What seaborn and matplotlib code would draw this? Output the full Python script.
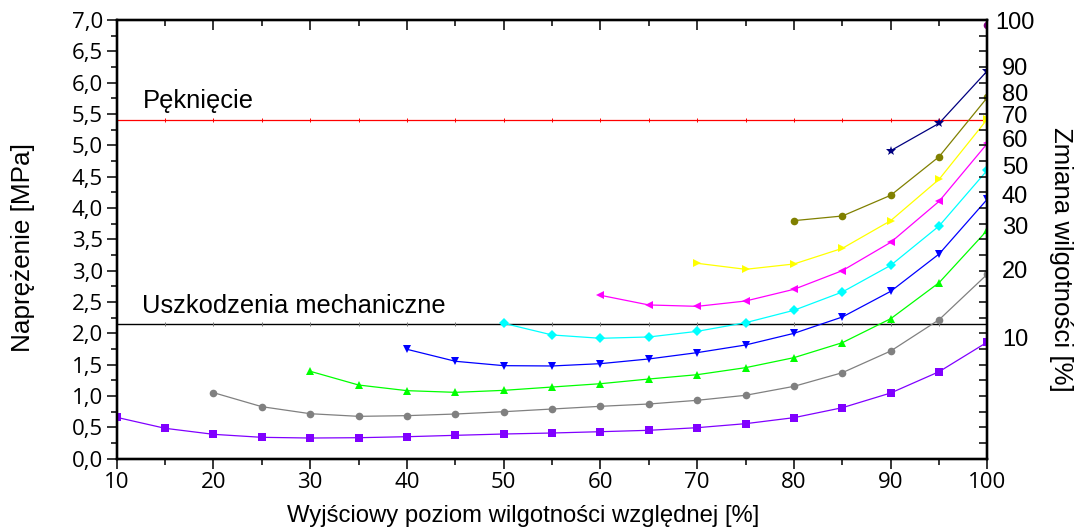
import numpy as np
import pandas as pd
import matplotlib
matplotlib.use("Agg")
import matplotlib.pyplot as plt
import seaborn as sns
from matplotlib.ticker import MultipleLocator, FuncFormatter

# ---- data ----
humidity_change = [10, 20, 30, 40, 50, 60, 70, 80, 90, 100]   # series labels (right side)
start_rh = [10, 20, 30, 40, 50, 60, 70, 80, 90, 100]          # first x of each series
rh_step = 5

stress_10 = [0.657, 0.482, 0.386, 0.338, 0.327, 0.332, 0.348, 0.370, 0.391, 0.407,
             0.428, 0.450, 0.492, 0.556, 0.652, 0.811, 1.046, 1.386, 1.860]
stress_20 = [1.051, 0.827, 0.715, 0.673, 0.684, 0.710, 0.747, 0.790, 0.833, 0.870,
             0.929, 1.009, 1.152, 1.370, 1.716, 2.216, 2.945]
stress_30 = [1.392, 1.173, 1.083, 1.056, 1.088, 1.141, 1.194, 1.269, 1.338, 1.450,
             1.610, 1.849, 2.232, 2.807, 3.648]
stress_40 = [1.743, 1.552, 1.482, 1.477, 1.514, 1.589, 1.690, 1.812, 1.998, 2.259,
             2.669, 3.265, 4.143]
stress_50 = [2.158, 1.972, 1.919, 1.940, 2.030, 2.168, 2.366, 2.658, 3.084, 3.712, 4.606]
stress_60 = [2.605, 2.451, 2.429, 2.514, 2.701, 2.999, 3.451, 4.106, 5.032]
stress_70 = [3.116, 3.020, 3.105, 3.355, 3.797, 4.457, 5.420]
stress_80 = [3.797, 3.871, 4.202, 4.818, 5.766]
stress_90 = [4.914, 5.351, 6.191]
stress_100 = [6.921]

crack_level = 5.4
damage_level = 2.15
crack_text = "Pęknięcie"
damage_text = "Uszkodzenia mechaniczne"
ref_mark_x = [10, 15, 20, 25, 30, 35, 40, 45, 50, 55, 60, 65, 70, 75, 80, 85, 90, 95, 100]

x_label = "Wyjściowy poziom wilgotności względnej [%]"
y_label = "Naprężenie [MPa]"
y2_label = "Zmiana wilgotności [%]"

all_stress = [stress_10, stress_20, stress_30, stress_40, stress_50,
              stress_60, stress_70, stress_80, stress_90, stress_100]

colors = ["#8000FF", "#808080", "#00FF00", "#0000FF", "#00FFFF",
          "#FF00FF", "#FFFF00", "#808000", "#000080", "#800080"]
marker_list = ["s", "o", "^", "v", "D", "<", ">", "o", "*", "o"]

# ---- long table ----
rows = []
for lab, st, vals in zip(humidity_change, start_rh, all_stress):
    xs = st + rh_step * np.arange(len(vals))
    for xv, yv in zip(xs, vals):
        rows.append({"rh": xv, "stress": yv, "series": str(lab)})
df = pd.DataFrame(rows)
series_names = [str(v) for v in humidity_change]
palette = dict(zip(series_names, colors))
markers = dict(zip(series_names, marker_list))

sns.set_theme(style="white")
plt.rcParams["font.family"] = ["Liberation Sans", "DejaVu Sans"]
for key in ["text.color", "axes.labelcolor", "xtick.color", "ytick.color", "axes.edgecolor"]:
    plt.rcParams[key] = "black"

fig = plt.figure(figsize=(10.75, 5.30), dpi=100)
ax = fig.add_axes([0.1086, 0.1349, 0.8100, 0.8274])

sns.lineplot(data=df, x="rh", y="stress", hue="series", style="series",
             hue_order=series_names, style_order=series_names,
             palette=palette, markers=markers, dashes=False, legend=False,
             linewidth=0.9, markersize=5.5, markeredgewidth=0, ax=ax, zorder=3)
for ln in ax.lines:
    if ln.get_marker() == "*":
        ln.set_markersize(7.5)

# reference lines
ax.plot([10, 100], [crack_level, crack_level], color="#FF0000", lw=0.9, zorder=2)
ax.plot([10, 100], [damage_level, damage_level], color="black", lw=1.0, zorder=2)
ax.plot(ref_mark_x, [crack_level] * len(ref_mark_x), ls="none", marker="|",
        color="#FF0000", ms=3, mew=0.7, zorder=2)
ax.plot(ref_mark_x, [damage_level] * len(ref_mark_x), ls="none", marker="|",
        color="#777777", ms=3, mew=0.7, zorder=2)

ax.text(12.72, 5.595, crack_text, fontsize=18.4, ha="left", va="baseline")
ax.text(12.58, 2.318, damage_text, fontsize=18.4, ha="left", va="baseline")

ax.set_xlim(10, 100)
ax.set_ylim(0, 7)
ax.xaxis.set_major_locator(MultipleLocator(10))
ax.xaxis.set_minor_locator(MultipleLocator(5))
ax.yaxis.set_major_locator(MultipleLocator(0.5))
ax.yaxis.set_minor_locator(MultipleLocator(0.25))
ax.yaxis.set_major_formatter(FuncFormatter(lambda v, p: f"{v:.1f}".replace(".", ",")))
ax.xaxis.set_major_formatter(FuncFormatter(lambda v, p: f"{v:.0f}"))
ax.tick_params(which="major", direction="out", length=7, width=1.1, color="black",
               labelsize=16, pad=3, labelcolor="black", labelfontfamily="Open Sans")
ax.tick_params(which="minor", direction="out", length=4, width=1.1, color="black")
ax.tick_params(axis="both", which="both", left=True, bottom=True)
ax.set_xlabel("")
ax.set_ylabel("")
for sp in ax.spines.values():
    sp.set_linewidth(1.6)
    sp.set_color("black")

# mirrored inward ticks on right and top
ax2 = ax.twinx()
ax2.set_ylim(ax.get_ylim())
ax2.yaxis.set_major_locator(MultipleLocator(0.5))
ax2.yaxis.set_minor_locator(MultipleLocator(0.25))
ax2.tick_params(axis="y", which="both", direction="in", right=True, labelright=False,
                length=5.5, width=1.1, color="black")
ax3 = ax.twiny()
ax3.set_xlim(ax.get_xlim())
ax3.xaxis.set_major_locator(MultipleLocator(10))
ax3.xaxis.set_minor_locator(MultipleLocator(5))
ax3.tick_params(axis="x", which="major", direction="in", top=True, labeltop=False,
                length=7, width=1.1, color="black")
ax3.tick_params(axis="x", which="minor", direction="in", top=True, labeltop=False,
                length=4, width=1.1, color="black")
for a in (ax2, ax3):
    for sp in a.spines.values():
        sp.set_linewidth(1.6)
        sp.set_color("black")
    a.grid(False)

# right-side labels at series end values
ytrans = ax.get_yaxis_transform()
for lab, vals in zip(humidity_change, all_stress):
    ax.text(1.0316, vals[-1] + 0.03, str(lab), transform=ytrans, ha="center",
            va="center", fontsize=17, clip_on=False)

fig.text(523 / 1075, 1 - 516 / 530, x_label, ha="center", va="center", fontsize=17.2)
fig.text(23 / 1075, 1 - 247 / 530, y_label, ha="center", va="center", fontsize=18.8,
         rotation=90)
fig.text(1061 / 1075, 1 - 259 / 530, y2_label, ha="center", va="center", fontsize=18.6,
         rotation=270)

fig.savefig("out.png", dpi=100, facecolor="white")
